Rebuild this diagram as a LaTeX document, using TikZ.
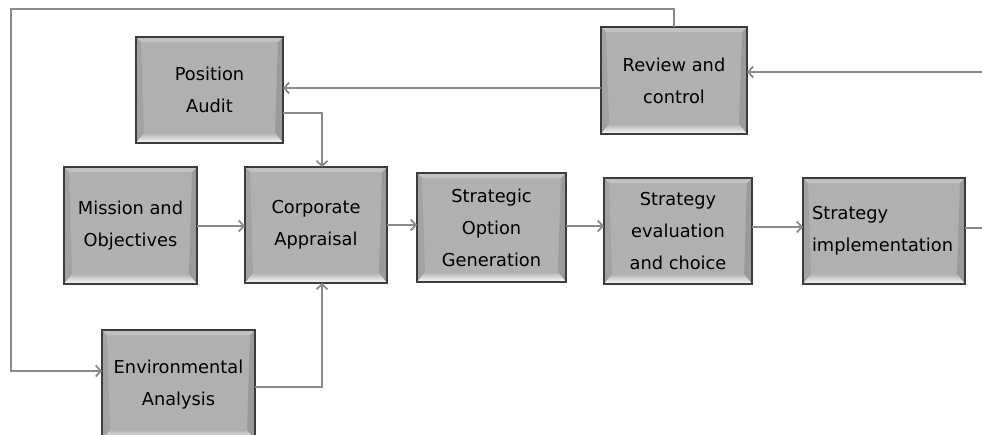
\documentclass[tikz,border=0pt]{standalone}
\usepackage{fontspec}
\setmainfont{DejaVu Sans}
\usetikzlibrary{arrows.meta,calc}
\definecolor{boxfill}{HTML}{B0B0B0}
\definecolor{boxedge}{HTML}{3C3C3C}
\definecolor{bevtop}{HTML}{C2C2C2}
\definecolor{bevleft}{HTML}{A2A2A2}
\definecolor{bevright}{HTML}{9A9A9A}
\definecolor{conncol}{HTML}{8A8A8A}
\tikzset{
  bevelbox/.style={draw=boxedge, line width=1.5pt, fill=boxfill, inner sep=0pt, outer sep=0pt,
    align=center, font=\fontsize{17.8}{32}\selectfont,
    path picture={
      \fill[bevleft] (path picture bounding box.south west) -- (path picture bounding box.north west)
        -- ($(path picture bounding box.north west)+(5pt,-5pt)$) -- ($(path picture bounding box.south west)+(8pt,10pt)$) -- cycle;
      \fill[bevright] (path picture bounding box.south east) -- (path picture bounding box.north east)
        -- ($(path picture bounding box.north east)+(-5pt,-5pt)$) -- ($(path picture bounding box.south east)+(-8pt,10pt)$) -- cycle;
      \fill[bevtop] (path picture bounding box.north west) -- (path picture bounding box.north east)
        -- ($(path picture bounding box.north east)+(-5pt,-5pt)$) -- ($(path picture bounding box.north west)+(5pt,-5pt)$) -- cycle;
      \shade[top color=boxfill, bottom color=white] (path picture bounding box.south west) -- (path picture bounding box.south east)
        -- ($(path picture bounding box.south east)+(-8pt,10pt)$) -- ($(path picture bounding box.south west)+(8pt,10pt)$) -- cycle;
    }},
  conn/.style={draw=conncol, line width=2.4pt, -{Straight Barb[length=5pt,width=11pt,line width=1.8pt]}},
  plainconn/.style={draw=conncol, line width=2.4pt}
}
\begin{document}
\begin{tikzpicture}[x=1pt,y=-1pt]
\useasboundingbox (0,0) rectangle (982,434);
\clip (0,0) rectangle (982,434);
\node[bevelbox, minimum width=147pt, minimum height=106pt] (pa) at (209.5,90) {Position\\Audit};
\node[bevelbox, minimum width=146pt, minimum height=107pt] (rc) at (674,80.5) {Review and\\control};
\node[bevelbox, minimum width=133pt, minimum height=117pt] (mo) at (130.5,225.5) {Mission and\\Objectives};
\node[bevelbox, minimum width=142pt, minimum height=116pt] (ca) at (316,225) {Corporate\\Appraisal};
\node[bevelbox, minimum width=149pt, minimum height=109pt] (sog) at (491.5,227.5) {Strategic\\Option\\Generation};
\node[bevelbox, minimum width=148pt, minimum height=106pt] (sec) at (678,231) {Strategy\\evaluation\\and choice};
\node[bevelbox, minimum width=162pt, minimum height=106pt, text width=144pt, align=left] (si) at (884,231) {Strategy\\implementation};
\node[bevelbox, minimum width=153pt, minimum height=110pt] (ea) at (178.5,385) {Environmental\\Analysis};
% helper coordinates
\coordinate (topy) at (0,9);
\coordinate (leftx) at (11,0);
\coordinate (loopy) at (0,371);
\coordinate (ry) at (0,88);
\coordinate (py) at (0,113);
\coordinate (cx) at (322,0);
\coordinate (my) at (0,226);
\coordinate (ey) at (0,387);
\coordinate (c1) at (0,225);
\coordinate (c2) at (0,226);
\coordinate (c3) at (0,227);
\coordinate (c4) at (0,228);
\coordinate (exitR) at (982,228);
\coordinate (inR) at (982,72);
% connectors
\draw[conn] (rc.north) |- (leftx |- topy) |- (ea.west |- loopy);
\draw[conn] (rc.west |- ry) -- (pa.east |- ry);
\draw[conn] (pa.east |- py) -| (cx |- ca.north);
\draw[conn] (mo.east |- my) -- (ca.west |- my);
\draw[conn] (ea.east |- ey) -| (cx |- ca.south);
\draw[conn] (ca.east |- c1) -- (sog.west |- c1);
\draw[conn] (sog.east |- c2) -- (sec.west |- c2);
\draw[conn] (sec.east |- c3) -- (si.west |- c3);
\draw[plainconn] (si.east |- c4) -- (exitR);
\draw[conn] (inR) -- (rc.east |- inR);
\end{tikzpicture}
\end{document}
